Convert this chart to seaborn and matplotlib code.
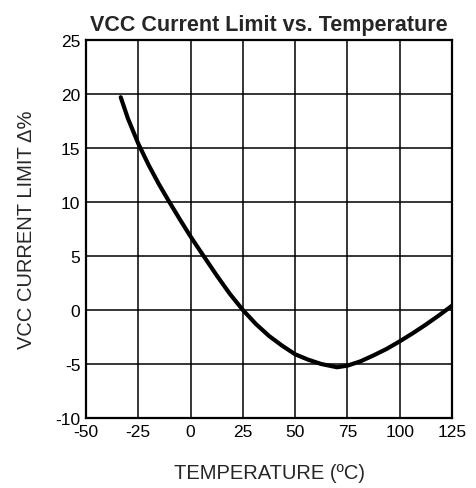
import pandas as pd
import seaborn as sns
import matplotlib.pyplot as plt

temperature = [-33.4, -30, -25, -20, -15, -10, -5, 0, 5, 12.5, 18.75, 25, 31.25, 37.5, 43.75, 50, 56.25, 62.5, 70,
               75, 81.25, 87.5, 93.75, 100, 106.25, 112.5, 118.75, 125]
current_limit = [19.7, 17.75, 15.4, 13.4, 11.6, 9.95, 8.35, 6.8, 5.35, 3.2, 1.5, 0.0, -1.3, -2.4, -3.3, -4.1, -4.6, -5.0, -5.3,
                 -5.15, -4.75, -4.2, -3.6, -2.9, -2.15, -1.35, -0.5, 0.4]

df = pd.DataFrame({'Temperature': temperature, 'Limit': current_limit})

sns.set_style('white')
plt.rcParams['font.family'] = ['Liberation Sans', 'DejaVu Sans']
plt.rcParams['axes.unicode_minus'] = False

fig = plt.figure(figsize=(4.76, 4.89), dpi=100)
ax = fig.add_axes([0.1807, 0.1431, 0.7689, 0.7731])
sns.lineplot(x='Temperature', y='Limit', data=df, color='black', linewidth=3.0, ax=ax)

ax.set_xlim(-50, 125)
ax.set_ylim(-10, 25)
ax.set_xticks(range(-50, 126, 25))
ax.set_yticks(range(-10, 26, 5))
ax.grid(True, color='black', linewidth=1.1)
for s in ax.spines.values():
    s.set_color('black')
    s.set_linewidth(1.6)
ax.tick_params(labelsize=12.5, length=0, pad=4, colors='black')
ax.set_xlabel('TEMPERATURE (ºC)', fontsize=14.5)
ax.set_ylabel('VCC CURRENT LIMIT Δ%', fontsize=14.5)
ax.xaxis.set_label_coords(0.5, -0.12)
ax.yaxis.set_label_coords(-0.137, 0.5)
ax.set_title('VCC Current Limit vs. Temperature', fontsize=15.5, fontweight='bold', pad=7)

plt.savefig('out.png', dpi=100)
